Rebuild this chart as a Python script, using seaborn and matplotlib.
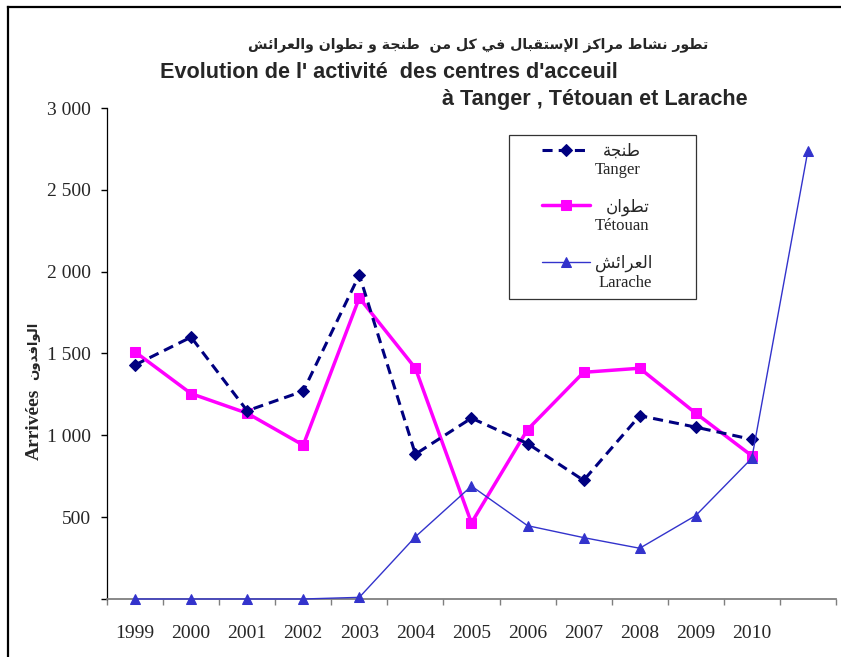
import matplotlib
matplotlib.use("Agg")
import matplotlib.pyplot as plt
import matplotlib.ticker as mticker
from matplotlib.lines import Line2D
from matplotlib.legend_handler import HandlerLine2D
import seaborn as sns
import pandas as pd

# ---------------------------------------------------------------- data
years = ["1999", "2000", "2001", "2002", "2003", "2004", "2005",
         "2006", "2007", "2008", "2009", "2010", ""]
tanger = [1430, 1600, 1150, 1270, 1980, 885, 1105, 950, 725, 1120, 1050, 975]
tetouan = [1510, 1255, 1135, 940, 1840, 1410, 465, 1035, 1385, 1410, 1135, 875]
larache = [0, 0, 0, 0, 10, 380, 690, 448, 375, 310, 510, 860, 2740]

title_ar = "تطور نشاط مراكز الإستقبال في كل من  طنجة و تطوان والعرائش"
title_fr_1 = "Evolution de l' activité  des centres d'acceuil"
title_fr_2 = "à Tanger , Tétouan et Larache"
ylabel_fr = "Arrivées"
ylabel_ar = "الوافدون"
names_ar = ["طنجة", "تطوان", "العرائش"]
names_fr = ["Tanger", "Tétouan", "Larache"]

# ------------------------------------------------ arabic contextual shaping
# (isolated, final, initial, medial) presentation forms
FORMS = {
    "\u0627": (0xFE8D, 0xFE8E, None, None),
    "\u0625": (0xFE87, 0xFE88, None, None),
    "\u0623": (0xFE83, 0xFE84, None, None),
    "\u0628": (0xFE8F, 0xFE90, 0xFE91, 0xFE92),
    "\u0629": (0xFE93, 0xFE94, None, None),
    "\u062A": (0xFE95, 0xFE96, 0xFE97, 0xFE98),
    "\u062C": (0xFE9D, 0xFE9E, 0xFE9F, 0xFEA0),
    "\u062F": (0xFEA9, 0xFEAA, None, None),
    "\u0631": (0xFEAD, 0xFEAE, None, None),
    "\u0632": (0xFEAF, 0xFEB0, None, None),
    "\u0633": (0xFEB1, 0xFEB2, 0xFEB3, 0xFEB4),
    "\u0634": (0xFEB5, 0xFEB6, 0xFEB7, 0xFEB8),
    "\u0637": (0xFEC1, 0xFEC2, 0xFEC3, 0xFEC4),
    "\u0639": (0xFEC9, 0xFECA, 0xFECB, 0xFECC),
    "\u0641": (0xFED1, 0xFED2, 0xFED3, 0xFED4),
    "\u0642": (0xFED5, 0xFED6, 0xFED7, 0xFED8),
    "\u0643": (0xFED9, 0xFEDA, 0xFEDB, 0xFEDC),
    "\u0644": (0xFEDD, 0xFEDE, 0xFEDF, 0xFEE0),
    "\u0645": (0xFEE1, 0xFEE2, 0xFEE3, 0xFEE4),
    "\u0646": (0xFEE5, 0xFEE6, 0xFEE7, 0xFEE8),
    "\u0648": (0xFEED, 0xFEEE, None, None),
    "\u064A": (0xFEF1, 0xFEF2, 0xFEF3, 0xFEF4),
    "\u0626": (0xFE89, 0xFE8A, 0xFE8B, 0xFE8C),
}
LAM_ALEF = {"\u0627": (0xFEFB, 0xFEFC), "\u0625": (0xFEF9, 0xFEFA),
            "\u0623": (0xFEF7, 0xFEF8)}


def shape_ar(text):
    units = []
    i = 0
    while i < len(text):
        c = text[i]
        if c == "\u0644" and i + 1 < len(text) and text[i + 1] in LAM_ALEF:
            units.append(("LA", text[i + 1]))
            i += 2
        else:
            units.append(("C", c))
            i += 1

    def dual(u):
        return u[0] == "C" and u[1] in FORMS and FORMS[u[1]][2] is not None

    def joins(u):
        return u[0] == "LA" or u[1] in FORMS

    out = []
    for k, u in enumerate(units):
        prev = units[k - 1] if k > 0 else None
        nxt = units[k + 1] if k + 1 < len(units) else None
        jp = prev is not None and dual(prev) and joins(u)
        if u[0] == "LA":
            iso, fin = LAM_ALEF[u[1]]
            out.append(chr(fin if jp else iso))
            continue
        c = u[1]
        if c not in FORMS:
            out.append(c)
            continue
        iso, fin, ini, med = FORMS[c]
        jn = nxt is not None and ini is not None and joins(nxt)
        g = med if (jp and jn) else fin if jp else ini if jn else iso
        out.append(chr(g))
    return "".join(reversed(out))


# ---------------------------------------------------------------- style
sns.set_theme(style="white")
plt.rcParams["font.family"] = ["Liberation Serif", "DejaVu Sans"]
plt.rcParams["axes.unicode_minus"] = False

fig = plt.figure(figsize=(8.41, 6.57), dpi=100)
ax = fig.add_axes([0.1272, 0.0883, 0.8668, 0.7473])

x_all = list(range(len(years)))
df_t = pd.DataFrame({"x": x_all[:len(tanger)], "v": tanger})
df_e = pd.DataFrame({"x": x_all[:len(tetouan)], "v": tetouan})
df_l = pd.DataFrame({"x": x_all[:len(larache)], "v": larache})

sns.lineplot(data=df_t, x="x", y="v", ax=ax, color="#000080", lw=2.2,
             linestyle="--", marker="D", markersize=6, markeredgecolor="#000080",
             label="t", clip_on=False, zorder=4)
ax.lines[-1].set_dashes([3.3, 2.0])
sns.lineplot(data=df_e, x="x", y="v", ax=ax, color="#FF00FF", lw=2.5,
             marker="s", markersize=7.5, markeredgecolor="#FF00FF", label="e",
             clip_on=False, zorder=3)
sns.lineplot(data=df_l, x="x", y="v", ax=ax, color="#3333CC", lw=1.0,
             marker="^", markersize=7.5, markeredgecolor="#3333CC", label="l",
             clip_on=False, zorder=5)

# ---------------------------------------------------------------- axes
ax.set_xlim(-0.5, len(years) - 0.5)
ax.set_ylim(0, 3000)
ax.set_xticks([i - 0.5 for i in range(len(years) + 1)])
ax.set_xticklabels([])
ax.set_xticks(x_all, minor=True)
ax.set_xticklabels(years, minor=True)
ax.tick_params(axis="x", which="major", direction="out", length=4.5,
               width=1, color="#7f7f7f", bottom=True)
ax.tick_params(axis="x", which="minor", length=0, pad=19, labelsize=14,
               bottom=True)
ax.set_yticks(range(0, 3001, 500))
ax.yaxis.set_major_formatter(mticker.FuncFormatter(
    lambda v, p: "" if v == 0 else f"{int(v):,}".replace(",", " ")))
ax.tick_params(axis="y", direction="out", length=4.5, width=1, color="black",
               pad=7, labelsize=14, left=True)
for s in ("top", "right"):
    ax.spines[s].set_visible(False)
ax.spines["left"].set_color("black")
ax.spines["left"].set_linewidth(0.9)
ax.spines["bottom"].set_color("#7f7f7f")
ax.spines["bottom"].set_linewidth(1.3)
ax.set_xlabel("")
ax.set_ylabel(ylabel_fr, fontsize=14, fontweight="bold", va="center")
ax.yaxis.set_label_coords(-0.100, 0.355)
ax.text(-0.100, 0.505, shape_ar(ylabel_ar), transform=ax.transAxes,
        rotation=90, ha="center", va="center", fontsize=9.5,
        fontweight="bold", family=["DejaVu Sans"])
ax.grid(False)


# ---------------------------------------------------------------- legend
class TopLineHandler(HandlerLine2D):
    """Draws the sample beside the first of two label lines, right-shifted."""

    def __init__(self, line_w, lift, **kw):
        super().__init__(**kw)
        self.line_w = line_w
        self.lift = lift

    def create_artists(self, legend, orig_handle, xdescent, ydescent,
                       width, height, fontsize, trans):
        xd = xdescent - (width - self.line_w)
        yd = ydescent - 2 * self.lift
        return super().create_artists(legend, orig_handle, xd, yd,
                                      self.line_w, height, fontsize, trans)


labels = [shape_ar(a) + "\n" + f for a, f in zip(names_ar, names_fr)]
hmap = {h: TopLineHandler(34.6, 8.0, numpoints=1) for h in ax.lines}
leg = ax.legend(handles=ax.lines, labels=labels, loc="upper left",
                bbox_to_anchor=(0.551, 0.0, 0.2565, 0.945), mode="expand",
                borderaxespad=0, frameon=True, fancybox=False, shadow=False,
                fontsize=12, handlelength=4.37, handletextpad=0.3,
                labelspacing=1.24, borderpad=0.5, handler_map=hmap)
leg.get_frame().set_edgecolor("black")
leg.get_frame().set_linewidth(0.9)
for t in leg.get_texts():
    t.set_multialignment("right")

# ---------------------------------------------------------------- titles
fig.text(478 / 841, 1 - 45 / 657, shape_ar(title_ar), ha="center",
         va="center", fontsize=10.2, fontweight="bold",
         family=["DejaVu Sans"])
fig.text(160 / 841, 1 - 73 / 657, title_fr_1, ha="left", va="center",
         fontsize=15.6, fontweight="bold", family=["Liberation Sans"])
fig.text(748 / 841, 1 - 100 / 657, title_fr_2, ha="right", va="center",
         fontsize=15.6, fontweight="bold", family=["Liberation Sans"])

# outer frame: left and top borders of the chart area
fx, fy = 8 / 841, 1 - 7 / 657
fig.add_artist(Line2D([fx, fx], [0, fy], transform=fig.transFigure,
                      color="black", lw=1.6, solid_capstyle="projecting"))
fig.add_artist(Line2D([fx, 1], [fy, fy], transform=fig.transFigure,
                      color="black", lw=1.6, solid_capstyle="projecting"))

fig.savefig("out.png", dpi=100)
